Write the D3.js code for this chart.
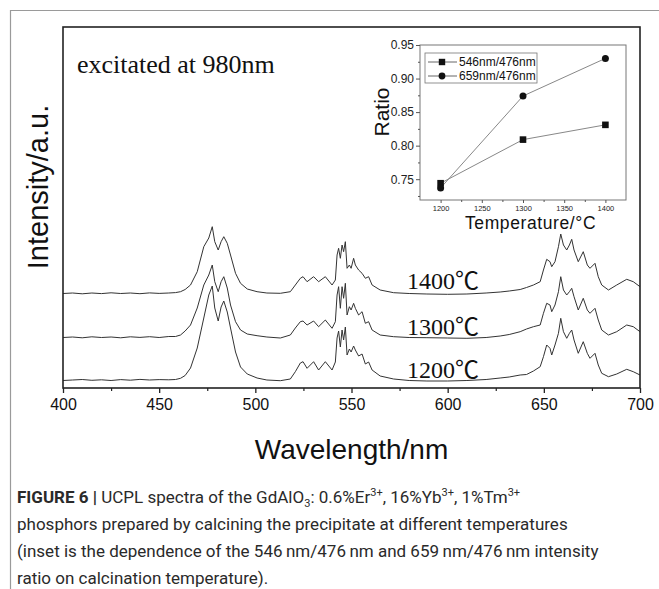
<!DOCTYPE html>
<html>
<head>
  <title>UCPL spectra</title>
<style>
  body {
    margin: 0;
    background-color: #fff;
    font-family: Arial, "Liberation Sans", sans-serif;
  }
  #chart {
    position: relative;
  }
  .spectrum {
    fill: none;
    stroke: #333;
    stroke-width: 1;
  }
  .ratio-line {
    fill: none;
    stroke: #888;
    stroke-width: 1;
  }
  .serif {
    font-family: "Liberation Serif", "Times New Roman", "Noto Sans CJK SC", serif;
  }
</style>
</head>
<body>
  <div id="chart"></div>

  <script src="https://cdn.jsdelivr.net/npm/d3@7/dist/d3.min.js"></script>
  <script>
    // spectra (a.u.)
    const wavelengths = [400, 405, 410, 415, 420, 425, 430, 435, 440, 445, 450, 455, 458.5,
      461.1, 463.5, 466.3, 469.8, 473.2, 475.8, 477.6, 478.9, 480.7, 482.2, 483.6, 485.4, 487.1,
      489.7, 492.3, 495.8, 500.9, 506, 513, 518.2, 520.8, 523.4, 524.8, 526.9, 530.3, 532.9,
      536.4, 539.9, 541.6, 542.5, 543.3, 544.2, 545.1, 545.9, 546.8, 547.7, 548.9, 549.8, 551.1,
      552, 553.7, 555.5, 557.2, 558.9, 560.7, 564.9, 571.9, 580, 589.2, 600, 610, 620, 627.3,
      632, 637.7, 641, 644.6, 648.1, 649.8, 651.5, 653.2, 654.1, 655.8, 657.6, 658.8, 660.2,
      661.9, 663.3, 664.5, 665.7, 667.9, 670.5, 672.6, 674, 676.6, 678.3, 680.1, 683.6, 687.9,
      693.1, 696.5, 700];

    const int1400 = [945, 950, 942, 950, 944, 952, 945, 950, 943, 951, 946, 950, 954,
      963, 985, 1030, 1163, 1413, 1500, 1613, 1463, 1380, 1463, 1513, 1447, 1330,
      1147, 1047, 990, 963, 950, 947, 963, 1030, 1097, 1113, 1063, 1113, 1063,
      1113, 1030, 1080, 1330, 1397, 1297, 1430, 1363, 1463, 1197, 1230, 1197, 1297,
      1230, 1180, 1147, 1097, 1113, 1030, 980, 953, 945, 940, 937, 940, 950, 960,
      970, 985, 1005, 1030, 1063, 1180, 1287, 1263, 1213, 1263, 1413, 1540, 1430,
      1380, 1430, 1487, 1380, 1263, 1363, 1230, 1197, 1247, 1113, 1030, 980, 1030,
      1087, 1063, 1013];

    const int1300 = [505, 510, 502, 512, 505, 510, 502, 512, 506, 513, 505, 515, 515,
      530, 570, 630, 800, 1030, 1130, 1230, 1063, 963, 1063, 1113, 1000, 830,
      663, 580, 540, 523, 510, 500, 530, 600, 663, 670, 630, 670, 613,
      680, 597, 663, 930, 1013, 797, 1013, 897, 1047, 730, 813, 780, 847,
      797, 730, 763, 647, 663, 580, 530, 513, 505, 503, 500, 497, 505, 520,
      535, 563, 590, 613, 630, 747, 847, 830, 763, 830, 963, 1113, 980,
      930, 963, 997, 913, 780, 897, 780, 747, 797, 680, 580, 530, 563,
      630, 613, 563];

    const int1200 = [75, 80, 85, 77, 82, 75, 84, 78, 86, 80, 84, 82, 85,
      97, 125, 200, 400, 700, 930, 1020, 800, 670, 810, 870, 760, 600,
      360, 210, 140, 100, 80, 73, 90, 163, 250, 263, 197, 263, 180,
      263, 180, 260, 500, 570, 410, 580, 480, 610, 330, 390, 360, 420,
      380, 320, 340, 240, 260, 180, 120, 90, 75, 70, 70, 75, 85, 100,
      110, 130, 135, 170, 213, 313, 430, 397, 330, 430, 547, 697, 563,
      497, 547, 580, 480, 347, 463, 347, 297, 347, 230, 147, 113, 140,
      187, 163, 130];

    const spectraLabels = ["1400℃", "1300℃", "1200℃"];
    const labelLevels = [1070, 610, 180];
    const xTicks = [400, 450, 500, 550, 600, 650, 700];

    // inset
    const insetTemps = [1200, 1300, 1400];
    const ratio546 = [0.744, 0.809, 0.831];
    const ratio659 = [0.737, 0.874, 0.930];
    const insetXTicks = [1200, 1250, 1300, 1350, 1400];
    const insetYTicks = [0.75, 0.80, 0.85, 0.90, 0.95];
    const legendNames = ["546nm/476nm", "659nm/476nm"];

    const width = 659;
    const height = 589;

    const svg = d3.select("#chart")
      .append("svg")
      .attr("width", width)
      .attr("height", height);

    // outer figure frame
    svg.append("path")
      .attr("d", "M10.5,589 L10.5,10.5 L659,10.5")
      .attr("fill", "none")
      .attr("stroke", "#9a9a9a")
      .attr("stroke-width", 1.2);

    const x = d3.scaleLinear().domain([400, 700]).range([63, 640]);
    const y = d3.scaleLinear().domain([0, 3610]).range([388, 27]);

    const spectra = [int1400, int1300, int1200];
    const line = d3.line()
      .x((d, i) => x(wavelengths[i]))
      .y(d => y(d));

    svg.selectAll(".spectrum")
      .data(spectra)
      .enter()
      .append("path")
      .attr("class", "spectrum")
      .attr("d", d => line(d));

    // bottom axis, major + minor ticks
    const xAxis = svg.append("g")
      .attr("transform", "translate(0,388)")
      .call(d3.axisBottom(x).tickValues(xTicks).tickSize(5).tickPadding(6));
    xAxis.select(".domain").remove();
    xAxis.selectAll("line").attr("stroke", "#222").attr("stroke-width", 1.3);
    xAxis.selectAll("text").attr("font-size", 16).attr("fill", "#111")
      .attr("font-family", "Arial, 'Liberation Sans', sans-serif");

    const minor = svg.append("g")
      .attr("transform", "translate(0,388)")
      .call(d3.axisBottom(x).tickValues(d3.range(425, 700, 50)).tickSize(3).tickFormat(""));
    minor.select(".domain").remove();
    minor.selectAll("line").attr("stroke", "#222").attr("stroke-width", 1.2);

    // plot frame
    svg.append("rect")
      .attr("x", x(400))
      .attr("y", y(3610))
      .attr("width", x(700) - x(400))
      .attr("height", y(0) - y(3610))
      .attr("fill", "none")
      .attr("stroke", "#222")
      .attr("stroke-width", 1.6);

    svg.append("text")
      .attr("x", (x(400) + x(700)) / 2)
      .attr("y", 459)
      .attr("text-anchor", "middle")
      .attr("font-size", 28)
      .attr("fill", "#111")
      .text("Wavelength/nm");

    svg.append("text")
      .attr("transform", "translate(48,187) rotate(-90)")
      .attr("text-anchor", "middle")
      .attr("font-size", 29)
      .attr("fill", "#111")
      .text("Intensity/a.u.");

    svg.append("text")
      .attr("class", "serif")
      .attr("x", 77)
      .attr("y", 73)
      .attr("font-size", 26)
      .attr("fill", "#111")
      .text("excitated at 980nm");

    svg.selectAll(".temp-label")
      .data(spectraLabels)
      .enter()
      .append("text")
      .attr("class", "serif temp-label")
      .attr("x", 407)
      .attr("y", (d, i) => y(labelLevels[i]) + 8)
      .attr("font-size", 24)
      .attr("fill", "#111")
      .text(d => d);

    // ---- inset ----
    const xi = d3.scaleLinear().domain([1175, 1425]).range([420, 626]);
    const yi = d3.scaleLinear().domain([0.719, 0.95]).range([200, 45]);

    svg.append("rect")
      .attr("x", xi(1175))
      .attr("y", yi(0.95))
      .attr("width", xi(1425) - xi(1175))
      .attr("height", yi(0.719) - yi(0.95))
      .attr("fill", "none")
      .attr("stroke", "#777")
      .attr("stroke-width", 1);

    const ixAxis = svg.append("g")
      .attr("transform", "translate(0,200)")
      .call(d3.axisBottom(xi).tickValues(insetXTicks).tickSize(3).tickPadding(3)
        .tickFormat(d3.format("d")));
    ixAxis.select(".domain").remove();
    ixAxis.selectAll("line").attr("stroke", "#555");
    ixAxis.selectAll("text").attr("font-size", 7.5).attr("fill", "#222")
      .attr("font-family", "'Liberation Sans Narrow', Arial, sans-serif");

    const ixMinor = svg.append("g")
      .attr("transform", "translate(0,200)")
      .call(d3.axisBottom(xi).tickValues(d3.range(1225, 1400, 50)).tickSize(2).tickFormat(""));
    ixMinor.select(".domain").remove();
    ixMinor.selectAll("line").attr("stroke", "#555");

    const iyAxis = svg.append("g")
      .attr("transform", "translate(420,0)")
      .call(d3.axisLeft(yi).tickValues(insetYTicks).tickSize(4).tickPadding(2)
        .tickFormat(d3.format(".2f")));
    iyAxis.select(".domain").remove();
    iyAxis.selectAll("line").attr("stroke", "#555");
    iyAxis.selectAll("text").attr("font-size", 12).attr("fill", "#222")
      .attr("font-family", "Arial, 'Liberation Sans', sans-serif");

    const iyMinor = svg.append("g")
      .attr("transform", "translate(420,0)")
      .call(d3.axisLeft(yi).tickValues([0.725, 0.775, 0.825, 0.875, 0.925]).tickSize(2).tickFormat(""));
    iyMinor.select(".domain").remove();
    iyMinor.selectAll("line").attr("stroke", "#555");

    const ratioLine = d3.line()
      .x((d, i) => xi(insetTemps[i]))
      .y(d => yi(d));

    svg.append("path").attr("class", "ratio-line").attr("d", ratioLine(ratio546));
    svg.append("path").attr("class", "ratio-line").attr("d", ratioLine(ratio659));

    svg.selectAll(".sq")
      .data(ratio546)
      .enter()
      .append("rect")
      .attr("class", "sq")
      .attr("x", (d, i) => xi(insetTemps[i]) - 3.3)
      .attr("y", d => yi(d) - 3.3)
      .attr("width", 6.6)
      .attr("height", 6.6)
      .attr("fill", "#111");

    svg.selectAll(".dot")
      .data(ratio659)
      .enter()
      .append("circle")
      .attr("class", "dot")
      .attr("cx", (d, i) => xi(insetTemps[i]))
      .attr("cy", d => yi(d))
      .attr("r", 3.5)
      .attr("fill", "#111");

    svg.append("text")
      .attr("transform", "translate(389,112) rotate(-90)")
      .attr("text-anchor", "middle")
      .attr("font-size", 21)
      .attr("fill", "#111")
      .text("Ratio");

    svg.append("text")
      .attr("x", 465)
      .attr("y", 229)
      .attr("font-size", 17.5)
      .attr("letter-spacing", 0.6)
      .attr("fill", "#111")
      .text("Temperature/°C");

    // legend
    svg.append("rect")
      .attr("x", 425)
      .attr("y", 53)
      .attr("width", 112)
      .attr("height", 30)
      .attr("fill", "#fff")
      .attr("stroke", "#777")
      .attr("stroke-width", 0.8);

    const legend = svg.selectAll(".legend-item")
      .data(legendNames)
      .enter()
      .append("g")
      .attr("class", "legend-item")
      .attr("transform", (d, i) => `translate(0,${62 + i * 14})`);

    legend.append("line")
      .attr("x1", 428).attr("x2", 457)
      .attr("stroke", "#666");

    legend.filter((d, i) => i === 0).append("rect")
      .attr("x", 442 - 3.2).attr("y", -3.2)
      .attr("width", 6.4).attr("height", 6.4)
      .attr("fill", "#111");

    legend.filter((d, i) => i === 1).append("circle")
      .attr("cx", 442).attr("r", 3.4)
      .attr("fill", "#111");

    legend.append("text")
      .attr("x", 459)
      .attr("y", 4.3)
      .attr("font-size", 12)
      .attr("fill", "#111")
      .text(d => d);

    // caption
    const cap = svg.append("g")
      .attr("font-family", "Roboto, Arial, sans-serif")
      .attr("font-size", 17)
      .attr("fill", "#2a2a2a");

    const l1 = cap.append("text").attr("x", 17).attr("y", 503);
    l1.append("tspan").attr("font-weight", "bold").text("FIGURE 6 |");
    l1.append("tspan").text(" UCPL spectra of the GdAlO");
    l1.append("tspan").attr("font-size", 11).attr("dy", 4).text("3");
    l1.append("tspan").attr("dy", -4).text(": 0.6%Er");
    l1.append("tspan").attr("font-size", 11).attr("dy", -7).text("3+");
    l1.append("tspan").attr("dy", 7).text(", 16%Yb");
    l1.append("tspan").attr("font-size", 11).attr("dy", -7).text("3+");
    l1.append("tspan").attr("dy", 7).text(", 1%Tm");
    l1.append("tspan").attr("font-size", 11).attr("dy", -7).text("3+");

    cap.append("text").attr("x", 17).attr("y", 530)
      .text("phosphors prepared by calcining the precipitate at different temperatures");
    cap.append("text").attr("x", 17).attr("y", 557)
      .text("(inset is the dependence of the 546\u2009nm/476\u2009nm and 659\u2009nm/476\u2009nm intensity");
    cap.append("text").attr("x", 17).attr("y", 584)
      .text("ratio on calcination temperature).");
  </script>
</body>
</html>
